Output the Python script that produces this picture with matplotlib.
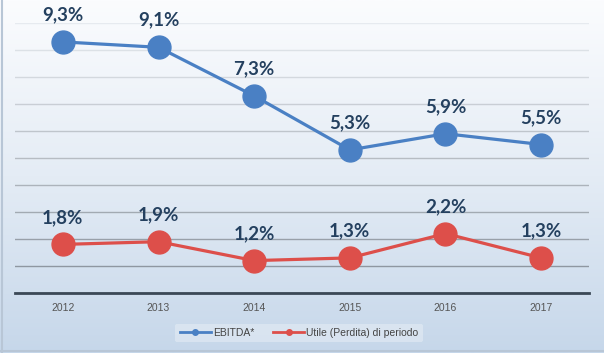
import matplotlib
matplotlib.use("Agg")
import matplotlib.pyplot as plt
import numpy as np
from matplotlib.colors import LinearSegmentedColormap, to_rgb
from matplotlib.lines import Line2D

years = ["2012", "2013", "2014", "2015", "2016", "2017"]
ebitda = [9.3, 9.1, 7.3, 5.3, 5.9, 5.5]
utile = [1.8, 1.9, 1.2, 1.3, 2.2, 1.3]
ebitda_labels = ["9,3%", "9,1%", "7,3%", "5,3%", "5,9%", "5,5%"]
utile_labels = ["1,8%", "1,9%", "1,2%", "1,3%", "2,2%", "1,3%"]
series_names = ["EBITDA*", "Utile (Perdita) di periodo"]

W, H, DPI = 604, 353, 100
fig = plt.figure(figsize=(W / DPI, H / DPI), dpi=DPI)

# background gradient
bg = fig.add_axes([0, 0, 1, 1], zorder=0)
cmap = LinearSegmentedColormap.from_list("bg", ["#fbfcfe", "#e4ecf5", "#c6d7ea"])
grad = np.linspace(0, 1, 256).reshape(-1, 1)
bg.imshow(grad, aspect="auto", cmap=cmap, extent=[0, 1, 0, 1], origin="upper")
bg.plot([0.004, 0.004], [0, 1], color="#b8c6d6", lw=1.5)
bg.plot([0, 1], [0.006, 0.006], color="#b8c6d6", lw=1.5)
bg.set_xlim(0, 1)
bg.set_ylim(0, 1)
bg.axis("off")

# plot area: x 15..589, y (0% at 293px, 10% at 23px)
left, right = 15 / W, 589 / W
y0_px, y10_px = 293, 23
ax = fig.add_axes([left, 1 - y0_px / H, right - left, (y0_px - y10_px) / H], zorder=1)
ax.patch.set_alpha(0)
x = np.arange(len(years))
ax.set_xlim(-0.5, len(years) - 0.5)
ax.set_ylim(0, 10)

ax.set_yticks(np.arange(0, 11, 1))
ax.yaxis.grid(True)
ax.set_axisbelow(True)
for i, gl in enumerate(ax.get_ygridlines()):
    t = i / 10.0
    c1 = np.array(to_rgb("#858e98"))
    c2 = np.array(to_rgb("#e6eaef"))
    gl.set_color(tuple(c1 * (1 - t) + c2 * t))
    gl.set_linewidth(1.0)
ax.tick_params(axis="y", left=False, labelleft=False)
for s in ["top", "right", "left"]:
    ax.spines[s].set_visible(False)
ax.spines["bottom"].set_color("#3b4856")
ax.spines["bottom"].set_linewidth(2.0)
ax.set_xticks(x)
ax.set_xticklabels(years, fontsize=7.5, color="#555555", family="Liberation Sans")
ax.tick_params(axis="x", length=0, pad=7)

blue = "#4a80c4"
red = "#dd4f4a"
ax.plot(x, ebitda, color=blue, lw=2.3, marker="o", ms=16.5, mfc=blue, mec=blue,
        label=series_names[0], zorder=3, clip_on=False)
ax.plot(x, utile, color=red, lw=2.3, marker="o", ms=16.5, mfc=red, mec=red,
        label=series_names[1], zorder=3, clip_on=False)

txt_color = "#24405f"
for xi, v, lab in zip(x, ebitda, ebitda_labels):
    ax.annotate(lab, (xi, v), xytext=(0, 19.5), textcoords="offset points", ha="center",
                va="center", fontsize=13.5, fontweight="bold", color=txt_color, family="Lato",
                annotation_clip=False)
for xi, v, lab in zip(x, utile, utile_labels):
    ax.annotate(lab, (xi, v), xytext=(0, 19.5), textcoords="offset points", ha="center",
                va="center", fontsize=13.5, fontweight="bold", color=txt_color, family="Lato",
                annotation_clip=False)

h1 = Line2D([], [], color=blue, lw=2, marker="o", ms=4)
h2 = Line2D([], [], color=red, lw=2, marker="o", ms=4)
leg = fig.legend([h1, h2], series_names, loc="center", bbox_to_anchor=(0.495, 1 - 333 / H),
                 ncol=2, frameon=True, fontsize=7.5, handlelength=3.0, handletextpad=0.2,
                 columnspacing=1.8, borderpad=0.4)
leg.get_frame().set_facecolor("#e4ecf5")
leg.get_frame().set_edgecolor("none")
leg.get_frame().set_alpha(0.6)
for t in leg.get_texts():
    t.set_color("#444444")
    t.set_family("Liberation Sans")

fig.savefig("out.png", dpi=DPI)
